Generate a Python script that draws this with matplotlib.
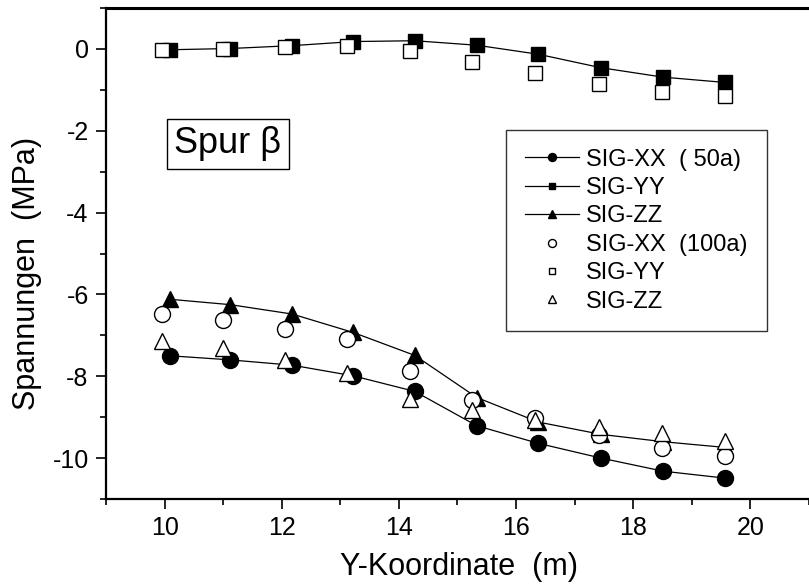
import numpy as np
import matplotlib.pyplot as plt

plt.rcParams['font.family'] = ['Liberation Sans', 'DejaVu Sans']
plt.rcParams['axes.unicode_minus'] = False

# Y-Koordinate (m) of the evaluation points
y_50 = [10.10, 11.12, 12.18, 13.22, 14.27, 15.33, 16.38, 17.45, 18.51, 19.57]
y_100 = [9.95, 11.00, 12.06, 13.12, 14.19, 15.25, 16.32, 17.41, 18.49, 19.56]

# stresses after 50 years (MPa)
sxx_50 = [-7.50, -7.60, -7.73, -7.99, -8.37, -9.21, -9.64, -10.00, -10.32, -10.49]
syy_50 = [-0.02, 0.01, 0.08, 0.18, 0.20, 0.09, -0.13, -0.46, -0.69, -0.82]
szz_50 = [-6.12, -6.25, -6.48, -6.93, -7.49, -8.52, -9.12, -9.42, -9.60, -9.74]

# stresses after 100 years (MPa)
sxx_100 = [-6.47, -6.63, -6.85, -7.08, -7.87, -8.59, -9.02, -9.44, -9.76, -9.94]
syy_100 = [-0.02, -0.01, 0.05, 0.07, -0.04, -0.31, -0.59, -0.85, -1.05, -1.15]
szz_100 = [-7.14, -7.32, -7.60, -7.91, -8.56, -8.82, -9.07, -9.23, -9.39, -9.59]

fig = plt.figure(figsize=(8.09, 5.85), dpi=100)
ax = fig.add_axes([106/809, 86/585, 703/809, 491/585])

kw = dict(color='black', lw=0.9)
ax.plot(y_50, sxx_50, marker='o', ms=11.5, label='SIG-XX  ( 50a)', **kw)
ax.plot(y_50, syy_50, marker='s', ms=10, label='SIG-YY', **kw)
ax.plot(y_50, szz_50, marker='^', ms=11, label='SIG-ZZ', **kw)

okw = dict(ls='none', mfc='white', mec='black', mew=1.0)
ax.plot(y_100, sxx_100, marker='o', ms=11.5, label='SIG-XX  (100a)', **okw)
ax.plot(y_100, syy_100, marker='s', ms=10, label='SIG-YY', **okw)
ax.plot(y_100, szz_100, marker='^', ms=11, label='SIG-ZZ', **okw)

ax.set_xlim(9, 21)
ax.set_ylim(-11, 1)
ax.set_xticks([10, 12, 14, 16, 18, 20])
ax.set_xticks(np.arange(9, 22, 1), minor=True)
ax.set_yticks([0, -2, -4, -6, -8, -10])
ax.set_yticks(np.arange(-11, 2, 1), minor=True)
ax.tick_params(which='major', direction='out', length=7.5, width=1.2,
               labelsize=18, pad=5)
ax.tick_params(which='minor', direction='out', length=4, width=1.2)
ax.tick_params(top=False, right=False)

ax.spines['top'].set_linewidth(2.2)
ax.spines['left'].set_linewidth(1.6)
ax.spines['bottom'].set_linewidth(1.6)
ax.spines['right'].set_visible(False)

ax.set_xlabel('Y-Koordinate  (m)', fontsize=22)
ax.set_ylabel('Spannungen  (MPa)', fontsize=22)
ax.xaxis.set_label_coords(0.502, -0.108)
ax.yaxis.set_label_coords(-0.091, 0.46)

ax.text(11.08, -2.32, 'Spur β', fontsize=26, ha='center', va='center',
        bbox=dict(boxstyle='square,pad=0.2', fc='white', ec='black', lw=1.0))

leg = ax.legend(loc='upper left', bbox_to_anchor=(0.569, 0.752), borderaxespad=0,
                fontsize=17, markerscale=0.5, handlelength=2.3, labelspacing=0.27,
                fancybox=False, edgecolor='#333333', framealpha=1,
                borderpad=0.8, handletextpad=0.3)
leg.get_frame().set_linewidth(1.0)

fig.savefig('out.png', dpi=100)
